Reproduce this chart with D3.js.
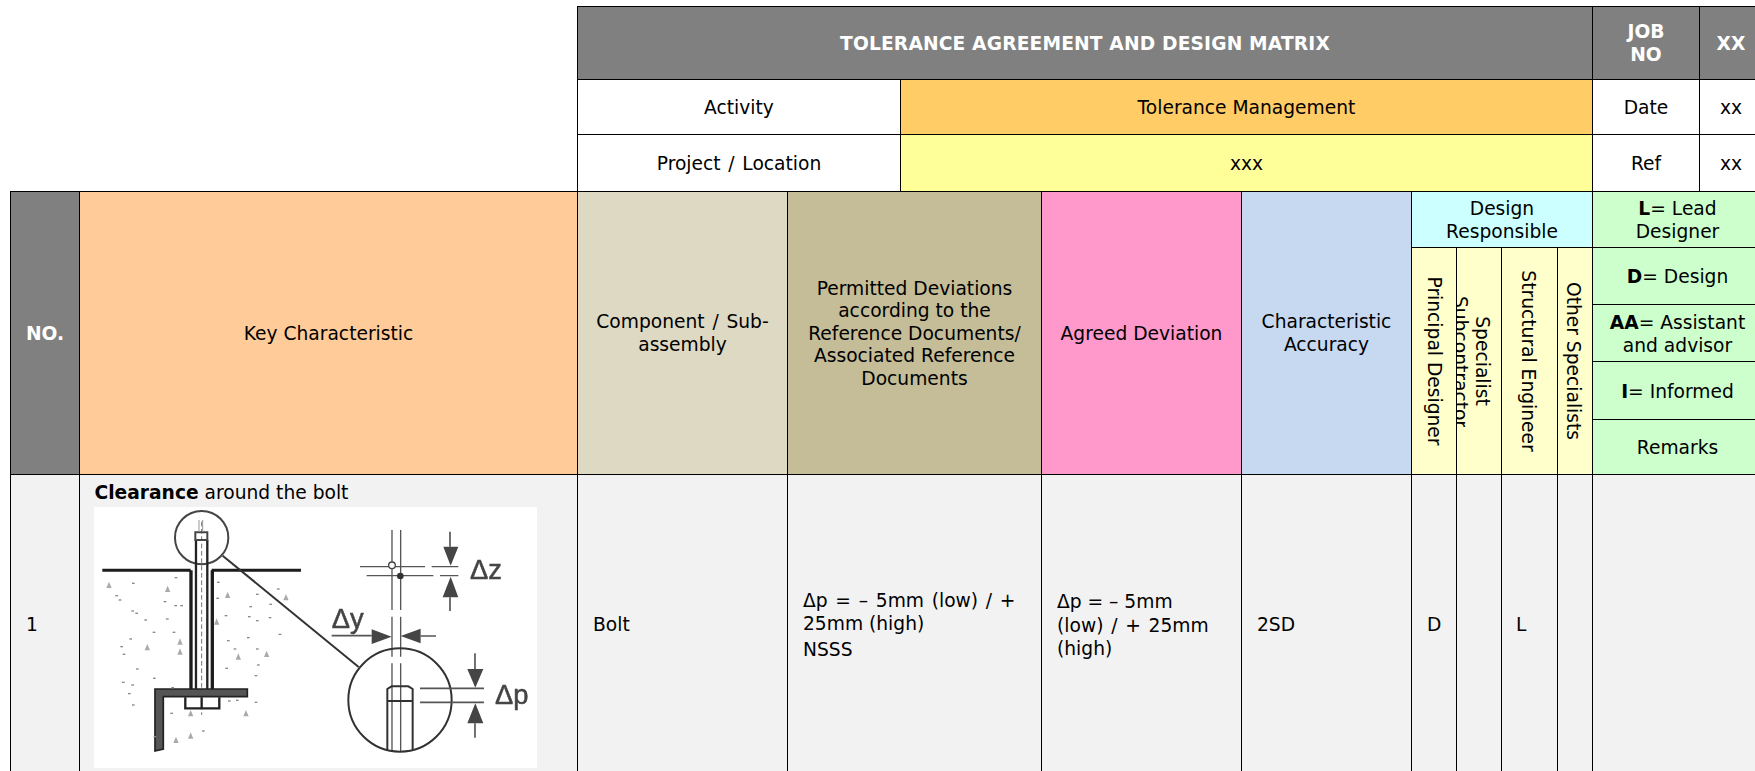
<!DOCTYPE html>
<html>
<head>
<meta charset="utf-8">
<script src="https://cdnjs.cloudflare.com/ajax/libs/d3/7.8.5/d3.min.js"></script>
<style>
html,body{margin:0;padding:0;background:#fff;overflow:hidden}
svg{display:block}
text{font-family:"DejaVu Sans",Verdana,sans-serif;fill:#000}
</style>
</head>
<body>
<div id="matrix"></div>
<script>
// table text
var titleRow=["TOLERANCE AGREEMENT AND DESIGN MATRIX",["JOB","NO"],"XX"]
var infoLabels=["Activity","Project / Location"]
var infoValues=["Tolerance Management","xxx"]
var infoSideLabels=["Date","Ref"]
var infoSideValues=["xx","xx"]
var columnHeads=[["NO."],["Key Characteristic"],["Component / Sub-","assembly"],
  ["Permitted Deviations","according to the","Reference Documents/","Associated Reference","Documents"],
  ["Agreed Deviation"],["Characteristic","Accuracy"]]
var designHead=["Design","Responsible"]
var roleHeads=[["Principal Designer"],["Specialist","Subcontractor"],["Structural Engineer"],["Other Specialists"]]
var legendKeys=["L","D","AA","I",""]
var legendText=[["= Lead","Designer"],["= Design"],["= Assistant","and advisor"],["= Informed"],["Remarks"]]
var rowNumber="1"
var keyBold="Clearance"
var keyRest=" around the bolt"
var rowComponent="Bolt"
var rowPermitted=["Δp = – 5mm (low) / +","25mm (high)","NSSS"]
var rowAgreed=["Δp = – 5mm","(low) / + 25mm","(high)"]
var rowAccuracy="2SD"
var rowRoles=["D","","L",""]

// grid lines, pixels
var colX=[10.5,79.5,577.5,787.5,1041.5,1241.5,1411.5,1592.5,1755.5]
var roleX=[1411.5,1456.5,1501.5,1557.5,1592.5]
var topX=[577.5,900.5,1592.5,1699.5,1755.5]
var topY=[6.5,79.5,134.5,191.5]
var headY=[191.5,474.5,771.5]
var legendY=[191.5,247.5,304.5,361.5,419.5,474.5]
var colFills=["#808080","#ffcc99","#ddd9c3","#c4bd97","#ff99cc","#c6d9f1"]
var lineH=22.5, fs=18.67
var sideCx=(topX[3]+topX[4])/2+3.5

var svg=d3.select("#matrix").append("svg").attr("width",1755).attr("height",771)
var defs=svg.append("defs")
defs.append("clipPath").attr("id","clipSub").append("rect")
  .attr("x",1457).attr("y",192).attr("width",44).attr("height",235)
var blur=defs.append("filter").attr("id","soft")
blur.append("feGaussianBlur").attr("stdDeviation",0.35)

var fills=svg.append("g"), art=svg.append("g"), lines=svg.append("g"), labels=svg.append("g")

function cell(x0,y0,x1,y1,fill){
  fills.append("rect").attr("x",x0).attr("y",y0).attr("width",x1-x0).attr("height",y1-y0)
    .attr("fill",fill).attr("stroke","#000").attr("stroke-width",1)
}
// lines with a slash sit wider in the original
function wordGap(t,s){
  if(s.indexOf(" / ")>=0) t.style("word-spacing","1.8px")
}
// centred block of lines
function block(arr,cx,cy,opt){
  opt=opt||{}
  var n=arr.length
  arr.forEach(function(s,i){
    var t=labels.append("text")
      .attr("x",cx).attr("y",cy+(i-(n-1)/2)*(opt.lh||lineH)+6.5)
      .attr("text-anchor","middle").attr("font-size",opt.size||fs)
    if(opt.bold) t.attr("font-weight","bold")
    if(opt.fill) t.style("fill",opt.fill)
    if(opt.spacing) t.style("letter-spacing",opt.spacing+"px")
    wordGap(t,s)
    t.text(s)
  })
}

// top block
var headStyle={bold:true,fill:"#fff",size:18.67}
cell(topX[0],topY[0],topX[2],topY[1],"#808080")
cell(topX[2],topY[0],topX[3],topY[1],"#808080")
cell(topX[3],topY[0],topX[4],topY[1],"#808080")
block([titleRow[0]],(topX[0]+topX[2])/2,(topY[0]+topY[1])/2,{bold:true,fill:"#fff",size:18.67,spacing:0.15})
block(titleRow[1],(topX[2]+topX[3])/2,(topY[0]+topY[1])/2,headStyle)
block([titleRow[2]],sideCx,(topY[0]+topY[1])/2,headStyle)
var infoFills=["#ffcc66","#ffff99"]
infoLabels.forEach(function(d,i){
  var y0=topY[i+1], y1=topY[i+2], my=(y0+y1)/2
  cell(topX[0],y0,topX[1],y1,"#fff")
  cell(topX[1],y0,topX[2],y1,infoFills[i])
  cell(topX[2],y0,topX[3],y1,"#fff")
  cell(topX[3],y0,topX[4],y1,"#fff")
  block([d],(topX[0]+topX[1])/2,my)
  block([infoValues[i]],(topX[1]+topX[2])/2,my)
  block([infoSideLabels[i]],(topX[2]+topX[3])/2,my)
  block([infoSideValues[i]],sideCx,my)
})

// header row
columnHeads.forEach(function(d,i){
  cell(colX[i],headY[0],colX[i+1],headY[1],colFills[i])
  block(d,(colX[i]+colX[i+1])/2,(headY[0]+headY[1])/2,i==0?headStyle:null)
})
cell(colX[6],legendY[0],colX[7],legendY[1],"#ccffff")
block(designHead,(colX[6]+colX[7])/2,(legendY[0]+legendY[1])/2+0.5,{lh:23.5})

roleHeads.forEach(function(d,i){
  cell(roleX[i],legendY[1],roleX[i+1],headY[1],"#ffffcc")
})
// rotated role names, baseline on the left
var roleBase=[1428,1476,1521.5,1566.5]
roleHeads.forEach(function(d,i){
  labels.append("text")
    .attr("transform","translate("+roleBase[i]+",361) rotate(90)")
    .attr("text-anchor","middle").attr("font-size",fs).text(d[0])
})
labels.append("g").attr("clip-path","url(#clipSub)").append("text")
  .attr("transform","translate(1454,362) rotate(90)")
  .attr("text-anchor","middle").attr("font-size",fs).text(roleHeads[1][1])

legendKeys.forEach(function(k,i){
  var y0=legendY[i], y1=legendY[i+1], cx=(colX[7]+colX[8])/2+3.5, cy=(y0+y1)/2+0.8
  cell(colX[7],y0,colX[8],y1,"#ccffcc")
  var arr=legendText[i]
  arr.forEach(function(s,j){
    var t=labels.append("text").attr("x",cx).attr("y",cy+(j-(arr.length-1)/2)*23+6.5)
      .attr("text-anchor","middle").attr("font-size",fs)
    if(j==0&&k) t.append("tspan").attr("font-weight","bold").text(k)
    t.append("tspan").text(s)
  })
})

// data row
var bodyX=[10.5,79.5,577.5,787.5,1041.5,1241.5,1411.5,1456.5,1501.5,1557.5,1592.5,1755.5]
d3.pairs(bodyX).forEach(function(p){ cell(p[0],headY[1],p[1],headY[2]+2,"#f2f2f2") })

function leftText(s,x,y){
  var t=labels.append("text").attr("x",x).attr("y",y).attr("font-size",fs)
  wordGap(t,s)
  return t.text(s)
}
leftText(rowNumber,26,631)
var kt=labels.append("text").attr("x",94.5).attr("y",498.5).attr("font-size",fs)
kt.append("tspan").attr("font-weight","bold").text(keyBold)
kt.append("tspan").text(keyRest)
leftText(rowComponent,593,631)
var permY=[607,630,656], agrY=[608,632,655]
rowPermitted.forEach(function(s,i){ leftText(s,803,permY[i]) })
rowAgreed.forEach(function(s,i){ leftText(s,1057,agrY[i]) })
leftText(rowAccuracy,1257,631)
var roleTextX=[1427,0,1516,0]
rowRoles.forEach(function(s,i){ if(s) leftText(s,roleTextX[i],631) })

// bolt sketch, drawn on a 3x grid
art.append("rect").attr("x",94).attr("y",507).attr("width",443).attr("height",261).attr("fill","#fff")
var sk=art.append("g").attr("filter","url(#soft)")
var left=sk.append("g").attr("transform","translate(0,465) scale(0.3333)")
var right=sk.append("g").attr("transform","translate(290,465) scale(0.3333)")
function stroke(g,d,w,col,dash){
  var p=g.append("path").attr("d",d).attr("fill","none").attr("stroke",col||"#222").attr("stroke-width",w)
  if(dash) p.attr("stroke-dasharray",dash)
  return p
}
function solid(g,d,col){ g.append("path").attr("d",d).attr("fill",col||"#444") }

stroke(left,"M605 218m-80 0a80 80 0 1 0 160 0a80 80 0 1 0 -160 0",6,"#444")
stroke(left,"M307 316H572M635 316H903",9,"#1a1a1a")
stroke(left,"M668 272L1076 606",6,"#333")
stroke(left,"M573 316V672M637 316V672",10,"#1a1a1a")
stroke(left,"M588 225V672M622 225V672",7,"#222")
stroke(left,"M605 170V750",3,"#777","14 8")
stroke(left,"M586 225V202H622V225Z",6,"#444")
stroke(left,"M597 165V200M608 165V200",3,"#999")
left.append("path").attr("d","M465 672H742V695H490V852L465 858Z").attr("fill","#555").attr("stroke","#222").attr("stroke-width",5)
stroke(left,"M556 697V730H658V697M605 697V730",7)

var speck=[[327,360],[503,372],[683,390],[858,397],[650,470],[540,530],[540,560],[442,547],[715,575],[800,567],[738,745],[572,745],[572,812],[528,825]]
left.selectAll(".tri").data(speck).enter().append("path")
  .attr("d",function(d){return "M"+(d[0]-8)+" "+(d[1]+9)+"L"+d[0]+" "+(d[1]-10)+"L"+(d[0]+8)+" "+(d[1]+9)+"Z"})
  .attr("fill","#aaa")
var dots=[[350,392],[360,405],[400,355],[398,438],[410,445],[437,465],[502,462],[495,410],[528,338],[545,422],[527,422],[462,502],[522,502],[392,522],[365,545],[372,568],[412,612],[463,640],[370,652],[398,660],[388,686],[400,720],[518,668],[515,745],[655,352],[653,400],[678,452],[685,527],[705,552],[680,610],[772,388],[835,372],[812,418],[752,425],[748,455],[772,467],[810,458],[745,518],[840,508],[772,552],[775,600],[768,632],[688,708],[712,706],[768,712],[610,798],[465,815]]
left.selectAll(".dot").data(dots).enter().append("rect")
  .attr("x",function(d){return d[0]-4}).attr("y",function(d){return d[1]-2})
  .attr("width",8).attr("height",4).attr("fill","#888")

stroke(right,"M306 195V435M332 195V435M306 455V575M332 455V575M306 595V860M332 595V860",4,"#555")
stroke(right,"M210 305H405M230 332H430M425 305H505M450 332H505",4,"#555")
right.append("circle").attr("cx",306).attr("cy",301).attr("r",10).attr("fill","#fff").attr("stroke","#444").attr("stroke-width",4)
right.append("circle").attr("cx",331).attr("cy",333).attr("r",10).attr("fill","#333")
stroke(right,"M480 200V245M480 397V438",5,"#555")
solid(right,"M460 245H505L482 302Z")
solid(right,"M482 335L458 397H505Z")
stroke(right,"M125 512H245M392 513H438",5,"#555")
solid(right,"M245 493L305 515L245 537Z")
solid(right,"M332 513L392 491V535Z")
stroke(right,"M330 705m-155 0a155 155 0 1 0 310 0a155 155 0 1 0 -310 0",6,"#333")
stroke(right,"M292 855V672L305 664H355L368 672V855",6,"#333")
stroke(right,"M292 708H368",6,"#333")
stroke(right,"M390 670H582M390 712H582",5,"#555")
stroke(right,"M555 565V612M555 775V818",5,"#555")
solid(right,"M532 612H580L556 668Z")
solid(right,"M556 715L532 775H580Z")
var skLabels=[["Δz",540,342],["Δy",125,490],["Δp",615,718]]
right.selectAll(".sk").data(skLabels).enter().append("text")
  .attr("x",function(d){return d[1]}).attr("y",function(d){return d[2]})
  .attr("font-size",82).style("font-family","'Liberation Sans',Arial,sans-serif").style("fill","#444")
  .style("stroke","#444").style("stroke-width",1.5)
  .text(function(d){return d[0]})
</script>
</body>
</html>
